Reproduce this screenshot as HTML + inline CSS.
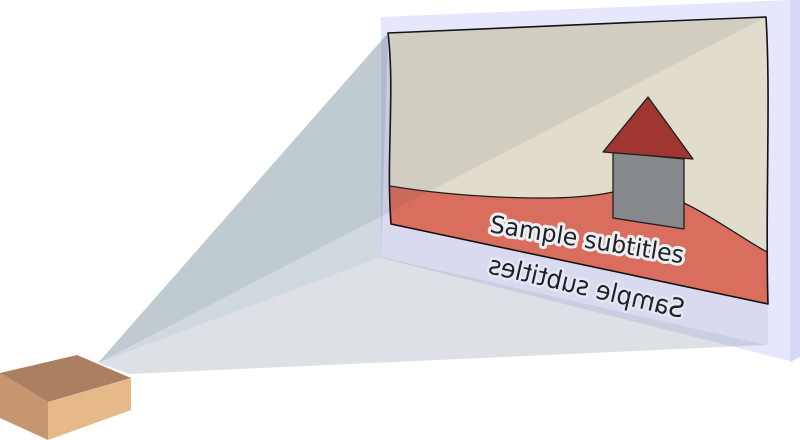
<!DOCTYPE html>
<html>
<head>
<meta charset="utf-8">
<style>
  html, body { margin: 0; padding: 0; background: #ffffff; }
  body { width: 800px; height: 440px; overflow: hidden; }
  svg { display: block; }
  .sub { font-family: "DejaVu Sans", "Liberation Sans", sans-serif; font-size: 24px; fill: #1e2226; paint-order: stroke; stroke-linejoin: round; }
</style>
</head>
<body>
<svg width="800" height="440" viewBox="0 0 800 440" xmlns="http://www.w3.org/2000/svg">
  <rect x="0" y="0" width="800" height="440" fill="#ffffff"/>

  <!-- wall -->
  <polygon points="381,17 790,0 790,361 381,258" fill="#e6e6fc"/>
  <polygon points="790,0 800,0 800,357 790,362" fill="#d7d7f7"/>

  <!-- projected area tint -->
  <polygon points="388,33 766,17 768,345 381,257" fill="rgb(120,135,150)" fill-opacity="0.12"/>

  <!-- screen image -->
  <path d="M388,33 C480,29 640,22 766,17 C771,100 765,210 768,304 L391,224 C386,160 395,90 388,33 Z" fill="#e2dccd"/>
  <path d="M390,186 C450,196 560,204 613,192 L684,203 C715,218 745,240 767,252 L768,304 L391,224 Z" fill="#da6e5e"/>
  <path d="M390,186 C450,196 560,204 613,192" fill="none" stroke="#1e1e1e" stroke-width="1.3"/>
  <path d="M684,203 C715,218 745,240 767,252" fill="none" stroke="#1e1e1e" stroke-width="1.3"/>

  <!-- house -->
  <polygon points="613,152 684,159 684,229 613,218" fill="#85898b" stroke="#1e1e1e" stroke-width="1.3" stroke-linejoin="round"/>
  <polygon points="648,97 693,159 603,152" fill="#a03632" stroke="#1e1e1e" stroke-width="1.3" stroke-linejoin="round"/>

  <!-- screen border -->
  <path d="M388,33 C480,29 640,22 766,17 C771,100 765,210 768,304 L391,224 C386,160 395,90 388,33 Z" fill="none" stroke="#111111" stroke-width="1.6" stroke-linejoin="round"/>

  <!-- beam -->
  <polygon points="98,363 388,33 381,257" fill="rgb(95,128,148)" fill-opacity="0.3"/>
  <polygon points="98,363 388,33 766,17" fill="rgb(70,80,90)" fill-opacity="0.1"/>
  <polygon points="98,363 381,257 767,345 130,374" fill="rgb(120,135,150)" fill-opacity="0.25"/>

  <!-- subtitles -->
  <text class="sub" transform="translate(489,232) rotate(9.2)" stroke="#edf0f3" stroke-width="6" textLength="196" lengthAdjust="spacingAndGlyphs">Sample subtitles</text>
  <text class="sub" style="font-size:26px" transform="translate(682,318) rotate(13) scale(-1,1)" stroke="#e6e7f5" stroke-width="5" textLength="200" lengthAdjust="spacingAndGlyphs">Sample subtitles</text>

  <!-- projector box -->
  <polygon points="0,373 77,355 131,378 48,402" fill="#ab7f61"/>
  <polygon points="0,373 48,402 48,440 0,418" fill="#c6976f"/>
  <polygon points="48,402 131,378 131,410 48,440" fill="#e6b988"/>
</svg>
</body>
</html>
